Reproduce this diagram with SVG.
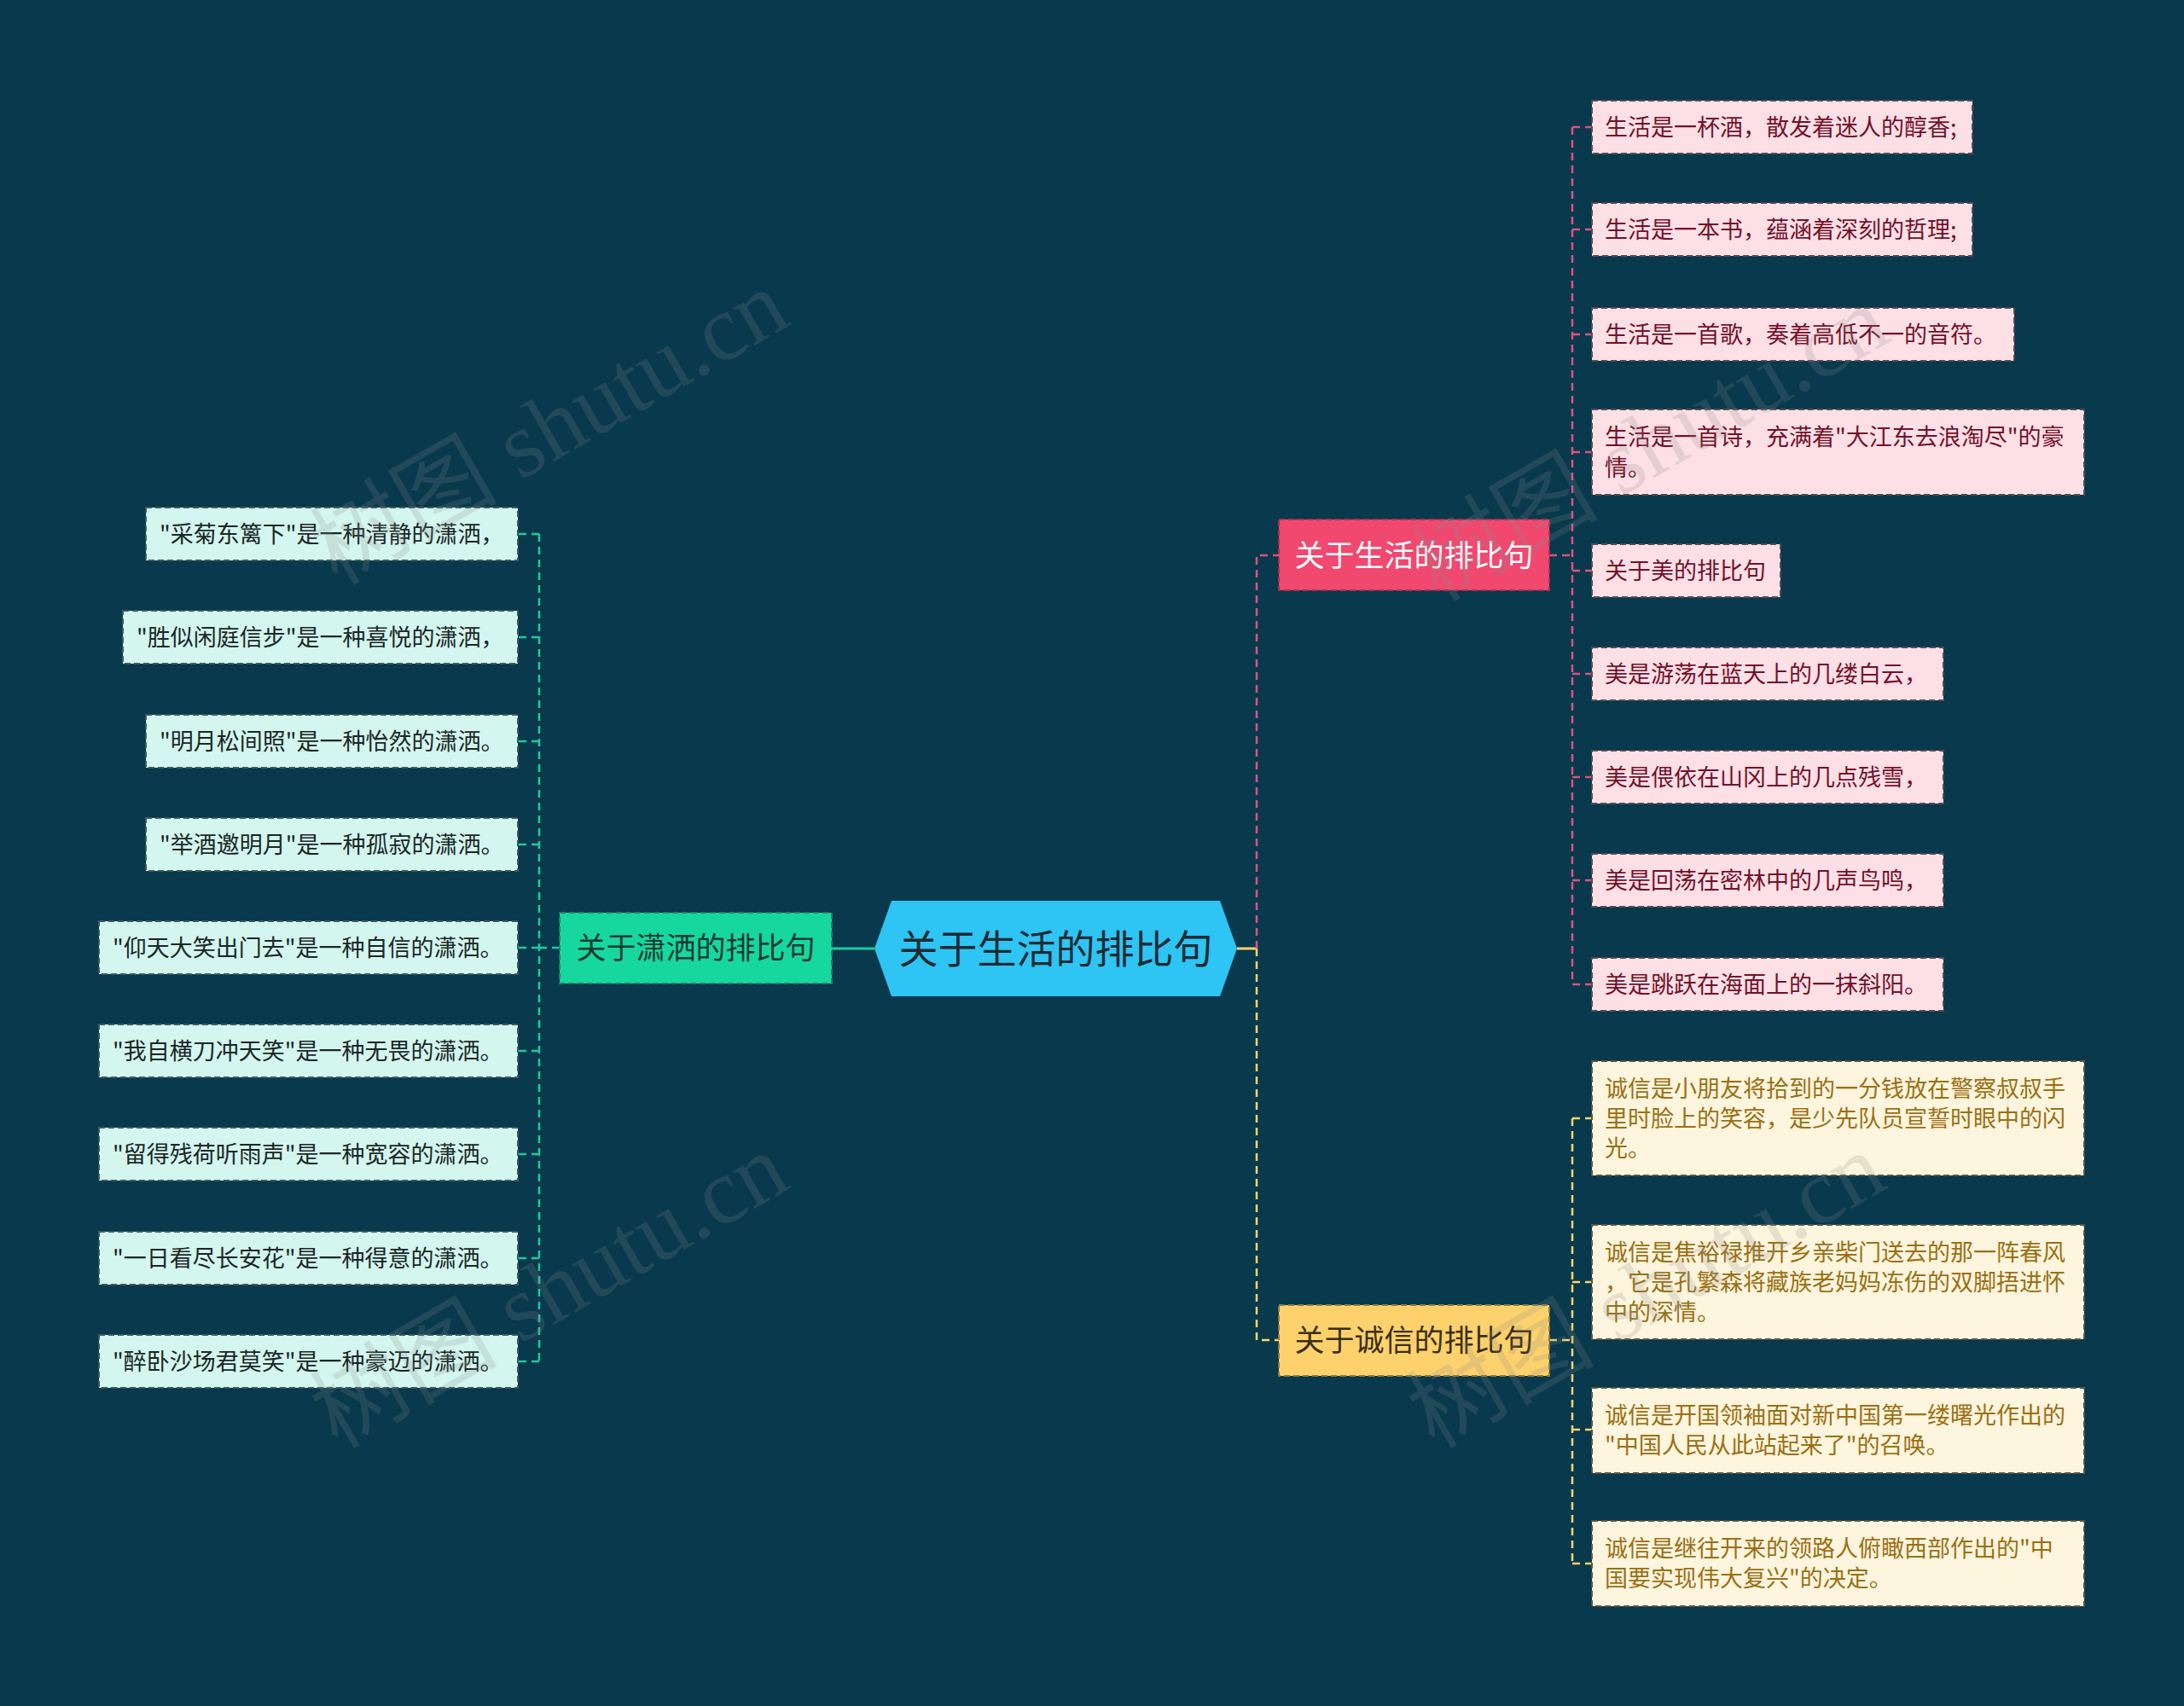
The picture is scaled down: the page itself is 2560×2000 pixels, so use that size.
<svg xmlns="http://www.w3.org/2000/svg" width="2560" height="2000" viewBox="0 0 2560 2000">
<style>
text{font-family:"Noto Sans CJK SC","Noto Sans",sans-serif;}
.leaf text{font-size:27px;}
.pl rect{fill:#fde0e6;stroke:#5a4a50;stroke-width:2;stroke-dasharray:7 4;}
.pl text{fill:#741029;}
.yl rect{fill:#fdf5de;stroke:#5a5440;stroke-width:2;stroke-dasharray:7 4;}
.yl text{fill:#9c6f12;}
.gl rect{fill:#d3f6ee;stroke:#3d5a5e;stroke-width:2;stroke-dasharray:7 4;}
.gl text{fill:#1a2626;}
.main text{font-size:35px;text-anchor:middle;}
.cp{fill:none;stroke:#e0527c;stroke-width:2.5;stroke-dasharray:9 6;}
.cy{fill:none;stroke:#fcd56b;stroke-width:2.5;stroke-dasharray:9 6;}
.cg{fill:none;stroke:#1fc9a0;stroke-width:2.5;stroke-dasharray:9 6;}
.wm{font-family:"Liberation Serif","Noto Sans CJK SC",serif;font-size:110px;fill:#8a8a8a;opacity:0.2;text-anchor:middle;}
</style>
<rect x="0" y="0" width="2560" height="2000" fill="#08394d"/>

<g id="connectors">
  <line x1="1025" y1="1112" x2="975" y2="1112" stroke="#1fc9a0" stroke-width="3"/>
  <line x1="1450" y1="1112" x2="1473" y2="1112" stroke="#fcd56b" stroke-width="3"/>
  <path class="cp" d="M1473,1112 V651 H1499"/>
  <path class="cy" d="M1473,1112 V1571 H1499"/>
  <path class="cp" d="M1816,651 H1843 M1843,149 V1154 M1843,149 H1866 M1843,269 H1866 M1843,392 H1866 M1843,530 H1866 M1843,669 H1866 M1843,790 H1866 M1843,911 H1866 M1843,1032 H1866 M1843,1154 H1866"/>
  <path class="cy" d="M1816,1571 H1843 M1843,1311 V1833 M1843,1311 H1866 M1843,1503 H1866 M1843,1676 H1866 M1843,1833 H1866"/>
  <path class="cg" d="M656,1111 H632 M632,626 V1596 M632,626 H607 M632,747 H607 M632,869 H607 M632,990 H607 M632,1111 H607 M632,1232 H607 M632,1353 H607 M632,1475 H607 M632,1596 H607"/>
</g>

<g id="center">
  <polygon points="1025,1112 1045,1056 1430,1056 1450,1112 1430,1168 1045,1168" fill="#2ec4f3"/>
  <text x="1237.5" y="1129" font-size="46" text-anchor="middle" fill="#1e2b33">关于生活的排比句</text>
</g>

<g id="main-life" class="main">
  <rect x="1499" y="609" width="317" height="83" fill="#f0486f" stroke="#a8324f" stroke-width="2" stroke-dasharray="7 4"/>
  <text x="1657.5" y="664" fill="#ffffff">关于生活的排比句</text>
</g>
<g id="main-honesty" class="main">
  <rect x="1499" y="1530" width="317" height="83" fill="#fdd26c" stroke="#8f7a3a" stroke-width="2" stroke-dasharray="7 4"/>
  <text x="1657.5" y="1584" fill="#3a2e12">关于诚信的排比句</text>
</g>
<g id="main-free" class="main">
  <rect x="656" y="1070" width="319" height="83" fill="#16d89f" stroke="#2f7a64" stroke-width="2" stroke-dasharray="7 4"/>
  <text x="815.5" y="1124" fill="#113a30">关于潇洒的排比句</text>
</g>

<g class="pl leaf">
  <g id="p1"><rect x="1866" y="118" width="446" height="62"/><text x="1881" y="159">生活是一杯酒，散发着迷人的醇香;</text></g>
  <g id="p2"><rect x="1866" y="238" width="446" height="62"/><text x="1881" y="279">生活是一本书，蕴涵着深刻的哲理;</text></g>
  <g id="p3"><rect x="1866" y="361" width="495" height="62"/><text x="1881" y="402">生活是一首歌，奏着高低不一的音符。</text></g>
  <g id="p4"><rect x="1866" y="480" width="577" height="100"/><text x="1881" y="522">生活是一首诗，充满着"大江东去浪淘尽"的豪</text><text x="1881" y="558">情。</text></g>
  <g id="p5"><rect x="1866" y="638" width="221" height="62"/><text x="1881" y="679">关于美的排比句</text></g>
  <g id="p6"><rect x="1866" y="759" width="412" height="62"/><text x="1881" y="800">美是游荡在蓝天上的几缕白云，</text></g>
  <g id="p7"><rect x="1866" y="880" width="412" height="62"/><text x="1881" y="921">美是偎依在山冈上的几点残雪，</text></g>
  <g id="p8"><rect x="1866" y="1001" width="412" height="62"/><text x="1881" y="1042">美是回荡在密林中的几声鸟鸣，</text></g>
  <g id="p9"><rect x="1866" y="1123" width="412" height="62"/><text x="1881" y="1164">美是跳跃在海面上的一抹斜阳。</text></g>
</g>

<g class="yl leaf">
  <g id="y1"><rect x="1866" y="1244" width="577" height="134"/><text x="1881" y="1286">诚信是小朋友将拾到的一分钱放在警察叔叔手</text><text x="1881" y="1321">里时脸上的笑容，是少先队员宣誓时眼中的闪</text><text x="1881" y="1356">光。</text></g>
  <g id="y2"><rect x="1866" y="1436" width="577" height="134"/><text x="1881" y="1478">诚信是焦裕禄推开乡亲柴门送去的那一阵春风</text><text x="1881" y="1513">，它是孔繁森将藏族老妈妈冻伤的双脚捂进怀</text><text x="1881" y="1548">中的深情。</text></g>
  <g id="y3"><rect x="1866" y="1627" width="577" height="100"/><text x="1881" y="1669">诚信是开国领袖面对新中国第一缕曙光作出的</text><text x="1881" y="1704">"中国人民从此站起来了"的召唤。</text></g>
  <g id="y4"><rect x="1866" y="1783" width="577" height="100"/><text x="1881" y="1825">诚信是继往开来的领路人俯瞰西部作出的"中</text><text x="1881" y="1860">国要实现伟大复兴"的决定。</text></g>
</g>

<g class="gl leaf">
  <g id="g1"><rect x="171" y="595" width="436" height="62"/><text x="187" y="636">"采菊东篱下"是一种清静的潇洒，</text></g>
  <g id="g2"><rect x="144" y="716" width="463" height="62"/><text x="160" y="757">"胜似闲庭信步"是一种喜悦的潇洒，</text></g>
  <g id="g3"><rect x="171" y="838" width="436" height="62"/><text x="187" y="879">"明月松间照"是一种怡然的潇洒。</text></g>
  <g id="g4"><rect x="171" y="959" width="436" height="62"/><text x="187" y="1000">"举酒邀明月"是一种孤寂的潇洒。</text></g>
  <g id="g5"><rect x="116" y="1080" width="491" height="62"/><text x="132" y="1121">"仰天大笑出门去"是一种自信的潇洒。</text></g>
  <g id="g6"><rect x="116" y="1201" width="491" height="62"/><text x="132" y="1242">"我自横刀冲天笑"是一种无畏的潇洒。</text></g>
  <g id="g7"><rect x="116" y="1322" width="491" height="62"/><text x="132" y="1363">"留得残荷听雨声"是一种宽容的潇洒。</text></g>
  <g id="g8"><rect x="116" y="1444" width="491" height="62"/><text x="132" y="1485">"一日看尽长安花"是一种得意的潇洒。</text></g>
  <g id="g9"><rect x="116" y="1565" width="491" height="62"/><text x="132" y="1606">"醉卧沙场君莫笑"是一种豪迈的潇洒。</text></g>
</g>

<g id="watermarks">
  <text class="wm" transform="translate(645,503) rotate(-30)" y="35">树图 shutu.cn</text>
  <text class="wm" transform="translate(1935,522) rotate(-30)" y="35">树图 shutu.cn</text>
  <text class="wm" transform="translate(645,1515) rotate(-30)" y="35">树图 shutu.cn</text>
  <text class="wm" transform="translate(1931,1515) rotate(-30)" y="35">树图 shutu.cn</text>
</g>
</svg>
